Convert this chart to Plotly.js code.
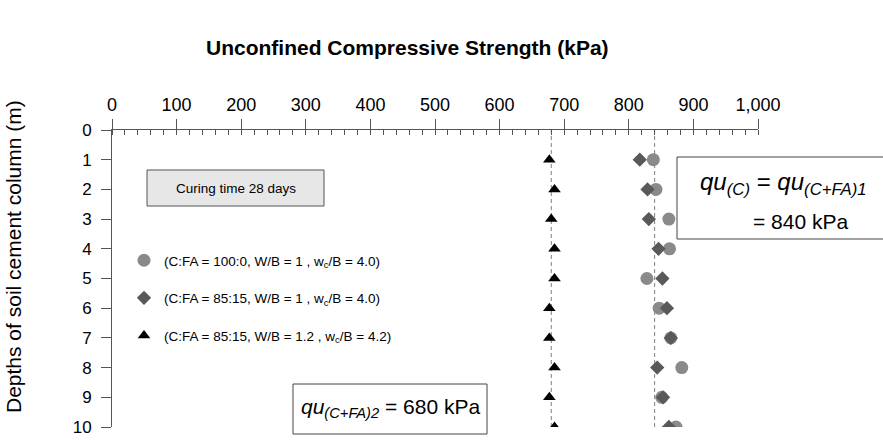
<!DOCTYPE html>
<html>
<head>
<meta charset="utf-8">
<script src="https://cdn.plot.ly/plotly-3.0.1.min.js"></script>
<style>html,body{margin:0;padding:0;background:#fff}#chart{width:883px;height:442px}</style>
</head>
<body>
<div id="chart"></div>
<script>
// ---- data ----
const depths = [1, 2, 3, 4, 5, 6, 7, 8, 9, 10];
const quC     = [838, 842, 862, 863, 828, 847, 865, 882, 851, 873];
const quCFA1  = [817, 829, 831, 846, 852, 859, 865, 844, 853, 862];
const quCFA2  = [677, 685, 680, 685, 685, 677, 677, 685, 677, 685];
const seriesNames = [
  "(C:FA = 100:0, W/B = 1 , w<sub>c</sub>/B = 4.0)",
  "(C:FA = 85:15, W/B = 1 , w<sub>c</sub>/B = 4.0)",
  "(C:FA = 85:15, W/B = 1.2 , w<sub>c</sub>/B = 4.2)"
];
const refLines = [680, 840];
const xTitle = "Unconfined Compressive Strength (kPa)";
const yTitle = "Depths of soil cement column (m)";

// ---- layout helpers (pixel -> paper) ----
const L = 112, R = 758, T = 130, B = 427;
const W = 883, H = 442;
const px = x => (x - L) / (R - L);
const py = y => (B - y) / (B - T);

const FONT = "Liberation Sans, Arial, sans-serif";

const traces = [
  {x: quC, y: depths, name: seriesNames[0], mode: "markers", type: "scatter",
   legendgroup: "a", marker: {symbol: "circle", size: 13, color: "#8a8a8a"}},
  {x: quCFA1, y: depths, name: seriesNames[1], mode: "markers", type: "scatter",
   legendgroup: "b", marker: {symbol: "diamond", size: 11, color: "#595959"}},
  {x: quCFA2, y: depths, name: seriesNames[2], mode: "markers", type: "scatter",
   legendgroup: "c", marker: {symbol: "triangle-up", size: 11, color: "#000000"}}
];

const shapes = refLines.map(v => ({
  type: "line", xref: "x", yref: "paper", x0: v, x1: v, y0: 0, y1: 1,
  line: {color: "#7f7f7f", width: 1, dash: "4px,3px"}, layer: "below"
}));
shapes.push({type: "rect", xref: "paper", yref: "paper",
  x0: px(147), x1: px(324), y0: py(206), y1: py(170),
  fillcolor: "#e7e7e7", line: {color: "#555555", width: 1}});
shapes.push({type: "rect", xref: "paper", yref: "paper",
  x0: px(677), x1: px(900), y0: py(239), y1: py(157),
  fillcolor: "#ffffff", line: {color: "#444444", width: 1}});
shapes.push({type: "rect", xref: "paper", yref: "paper",
  x0: px(293), x1: px(487), y0: py(434), y1: py(384),
  fillcolor: "#ffffff", line: {color: "#444444", width: 1}});

function note(text, x, y, size, extra) {
  return Object.assign({text: text, xref: "paper", yref: "paper", x: px(x), y: py(y),
    xanchor: "center", yanchor: "middle", showarrow: false,
    font: {size: size, color: "#000", family: FONT}}, extra || {});
}

const annotations = [
  note("<b>" + xTitle + "</b>", 407, 47, 21),
  note(yTitle, 13, 257, 21, {textangle: -90}),
  note("Curing time 28 days", 236, 188, 13.5),
  note("<i>qu</i><sub><i>(C)</i></sub> = <i>qu</i><sub><i>(C+FA)1</i></sub>", 783, 183, 24),
  note("= 840 kPa", 800, 221, 21),
  note("<i>qu</i><sub><i>(C+FA)2</i></sub> = 680 kPa", 390, 408, 21)
];

const layout = {
  width: W, height: H,
  margin: {l: L, r: W - R, t: T, b: H - B, pad: 0},
  paper_bgcolor: "#ffffff", plot_bgcolor: "#ffffff",
  font: {family: FONT, color: "#000", size: 17},
  showlegend: true,
  legend: {x: px(124), y: py(245), xanchor: "left", yanchor: "top",
           bgcolor: "rgba(0,0,0,0)", borderwidth: 0, tracegroupgap: 17,
           font: {size: 13.5, family: FONT, color: "#000"}},
  xaxis: {side: "top", range: [0, 1000], dtick: 100, tick0: 0, tickformat: ",d",
          showgrid: false, zeroline: false, showline: true, linecolor: "#555555", linewidth: 1,
          ticks: "outside", ticklen: 10, tickcolor: "#555555", ticklabelstandoff: 1,
          tickfont: {size: 18, family: FONT, color: "#000"},
          minor: {dtick: 20, ticks: "inside", ticklen: 5, tickcolor: "#555555", showgrid: false}},
  yaxis: {range: [10, 0], dtick: 1, tick0: 0, showgrid: false, zeroline: false,
          showline: true, linecolor: "#555555", linewidth: 1,
          ticks: "outside", ticklen: 10, tickcolor: "#555555", ticklabelstandoff: 6,
          tickfont: {size: 17, family: FONT, color: "#000"}},
  shapes: shapes,
  annotations: annotations
};

Plotly.newPlot("chart", traces, layout, {staticPlot: true, displayModeBar: false});
</script>
</body>
</html>
